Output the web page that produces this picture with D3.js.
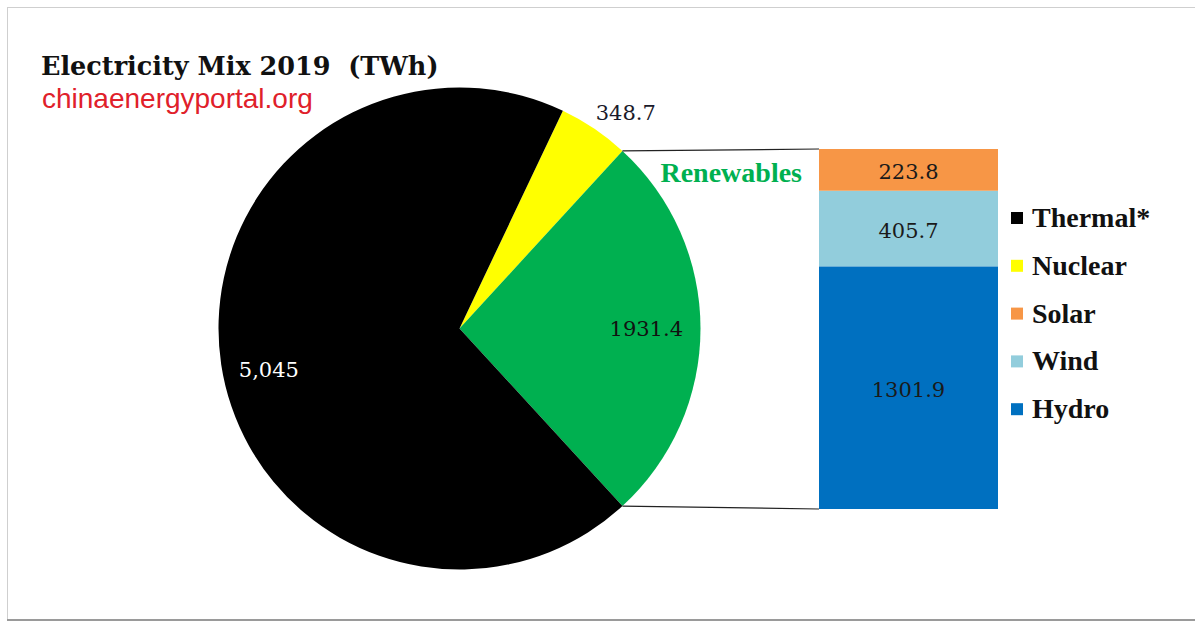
<!DOCTYPE html>
<html><head><meta charset="utf-8">
<script src="https://cdn.jsdelivr.net/npm/d3@7"></script>
<style>html,body{margin:0;padding:0;background:#fff;}svg{display:block;}</style>
</head><body>
<svg id="chart" width="1195" height="622"></svg>
<script>
// ---- data ----
const pieCategories = ["Nuclear", "Renewables", "Thermal*"];
const pieValues = [348.7, 1931.4, 5045];
const pieLabels = ["348.7", "1931.4", "5,045"];
const pieColors = ["#FFFF00", "#00B050", "#000000"];

const barCategories = ["Hydro", "Wind", "Solar"];
const barValues = [1301.9, 405.7, 223.8];
const barLabels = ["1301.9", "405.7", "223.8"];
const barColors = ["#0070C0", "#92CDDC", "#F79646"];

const legendNames = ["Thermal*", "Nuclear", "Solar", "Wind", "Hydro"];
const legendColors = ["#000000", "#FFFF00", "#F79646", "#92CDDC", "#0070C0"];

const titleText = "Electricity Mix 2019\u00a0\u00a0(TWh)";
const subtitleText = "chinaenergyportal.org";
const renewTitle = "Renewables";

// ---- drawing ----
const svg = d3.select("#chart");
const W = 1195, H = 622;

// frame
svg.append("rect").attr("x", 7.5).attr("y", 7.5).attr("width", W + 10).attr("height", 612)
  .attr("fill", "#fff").attr("stroke", "#cfcfcf").attr("stroke-width", 1);
svg.append("line").attr("x1", 7).attr("x2", W).attr("y1", 620).attr("y2", 620)
  .attr("stroke", "#9a9a9a").attr("stroke-width", 2);

// titles
svg.append("text").attr("x", 41).attr("y", 75).text(titleText)
  .attr("font-family", "DejaVu Serif").attr("font-weight", "bold").attr("font-size", 25.5).attr("fill", "#111");
svg.append("text").attr("x", 42).attr("y", 108).text(subtitleText)
  .attr("font-family", "Liberation Sans").attr("font-size", 28).attr("fill", "#E0202A");

// pie
const cx = 459.5, cy = 328.5, R = 241;
const total = d3.sum(pieValues);
const angOf = v => 2 * Math.PI * v / total;
const start = Math.PI / 2 - angOf(pieValues[1]) / 2 - angOf(pieValues[0]);
const pie = d3.pie().sort(null).value(d => d.v).startAngle(start).endAngle(start + 2 * Math.PI);
const arcs = pie(pieCategories.map((c, i) => ({ c, v: pieValues[i], label: pieLabels[i], color: pieColors[i] })));
const arc = d3.arc().innerRadius(0).outerRadius(R);
const g = svg.append("g").attr("transform", `translate(${cx},${cy})`);
g.selectAll("path").data(arcs).join("path").attr("d", arc).attr("fill", d => d.data.color);

const pt = (a, r) => [Math.sin(a) * r, -Math.cos(a) * r];
const numFont = "DejaVu Serif";
// nuclear label (outside)
{
  const d = arcs[0], m = (d.startAngle + d.endAngle) / 2, p = pt(m, R + 10);
  g.append("text").attr("x", p[0] - 4).attr("y", p[1]).text(d.data.label)
    .attr("font-family", numFont).attr("font-size", 21).attr("fill", "#1a1a2a");
}
// renewables label (inside)
{
  const d = arcs[1], m = (d.startAngle + d.endAngle) / 2, p = pt(m, R * 0.775);
  g.append("text").attr("x", p[0]).attr("y", p[1]).attr("dy", "0.36em").attr("text-anchor", "middle")
    .text(d.data.label).attr("font-family", numFont).attr("font-size", 21).attr("fill", "#111");
}
// thermal label (inside)
{
  const d = arcs[2], m = (d.startAngle + d.endAngle) / 2, p = pt(m, R * 0.8);
  g.append("text").attr("x", p[0]).attr("y", p[1] + 12).attr("dy", "0.36em").attr("text-anchor", "middle")
    .text(d.data.label).attr("font-family", numFont).attr("font-size", 21).attr("fill", "#fff");
}

// bar of renewables
const bx0 = 819, bx1 = 998;
const y = d3.scaleLinear().domain([0, d3.sum(barValues)]).range([509, 149]);
const cum = d3.cumsum(barValues);
const segs = barValues.map((v, i) => ({ v, y0: cum[i] - v, y1: cum[i], color: barColors[i], label: barLabels[i] }));
svg.selectAll("rect.seg").data(segs).join("rect").attr("class", "seg")
  .attr("x", bx0).attr("width", bx1 - bx0)
  .attr("y", d => y(d.y1)).attr("height", d => y(d.y0) - y(d.y1))
  .attr("fill", d => d.color);
svg.selectAll("text.seg").data(segs).join("text").attr("class", "seg")
  .attr("x", (bx0 + bx1) / 2).attr("y", d => y((d.y0 + d.y1) / 2)).attr("dy", "0.45em")
  .attr("text-anchor", "middle").text(d => d.label)
  .attr("font-family", numFont).attr("font-size", 21).attr("fill", "#1a1a1a");

// connector lines
const ren = arcs[1];
const pA = pt(ren.startAngle, R), pB = pt(ren.endAngle, R);
svg.append("line").attr("x1", cx + pA[0]).attr("y1", cy + pA[1]).attr("x2", bx0).attr("y2", y(d3.sum(barValues)))
  .attr("stroke", "#222").attr("stroke-width", 1.2);
svg.append("line").attr("x1", cx + pB[0]).attr("y1", cy + pB[1]).attr("x2", bx0).attr("y2", y(0))
  .attr("stroke", "#222").attr("stroke-width", 1.2);

svg.append("text").attr("x", bx0 - 17).attr("y", 182).attr("text-anchor", "end").text(renewTitle)
  .attr("font-family", "Liberation Serif").attr("font-weight", "bold").attr("font-size", 28).attr("fill", "#00B050");

// legend
const lg = svg.append("g").attr("transform", "translate(1011,227)");
const row = lg.selectAll("g").data(legendNames).join("g").attr("transform", (d, i) => `translate(0,${i * 47.8})`);
row.append("rect").attr("x", 0).attr("y", -15).attr("width", 12).attr("height", 12)
  .attr("fill", (d, i) => legendColors[i]);
row.append("text").attr("x", 21).attr("y", 0).text(d => d)
  .attr("font-family", "Liberation Serif").attr("font-weight", "bold").attr("font-size", 28).attr("fill", "#111");
</script>
</body></html>
